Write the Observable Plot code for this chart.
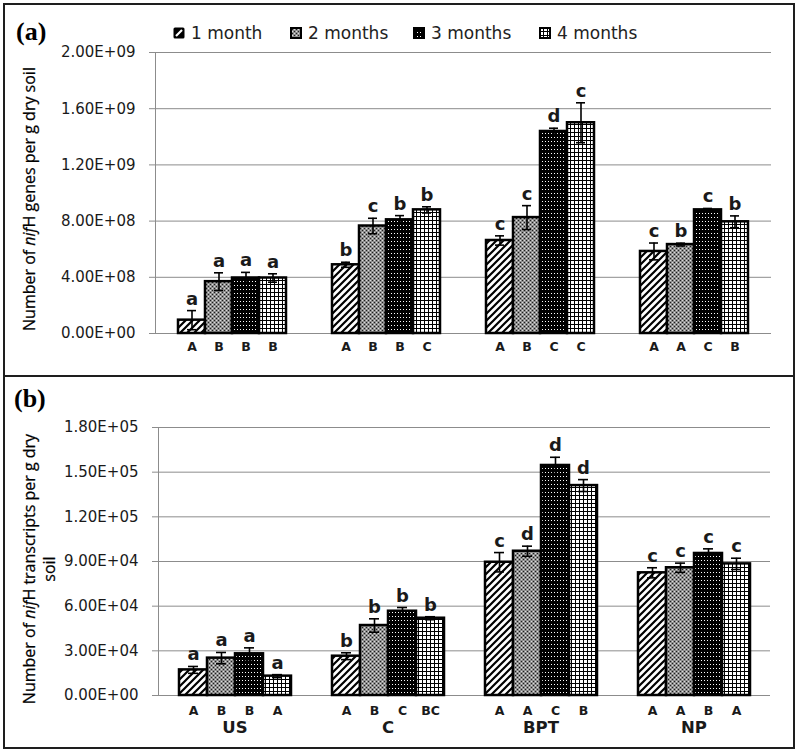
<!DOCTYPE html>
<html>
<head>
<meta charset="utf-8">
<script src="https://cdn.jsdelivr.net/npm/d3@7"></script>
<script src="https://cdn.jsdelivr.net/npm/@observablehq/plot@0.6"></script>
<style>
  html, body { margin: 0; padding: 0; background: #fff; }
  body { width: 799px; height: 752px; position: relative; overflow: hidden; }
  .abs { position: absolute; }
  .box { position: absolute; border: 2px solid #1e1e1e; box-sizing: border-box; pointer-events: none; }
  .chart svg text { fill: #1a1a1a; }
  .tag { font-family: "Liberation Serif", serif; font-weight: bold; font-size: 26px; color: #000; }
  .ytitle { font-family: "Open Sans", sans-serif; font-size: 16px; color: #000; text-align: center; white-space: nowrap;
            transform: translate(-50%, -50%) rotate(-90deg); line-height: 20px; -webkit-text-stroke: 0.25px #000; }
  .leg { font-family: "DejaVu Sans", sans-serif; font-size: 17px; color: #222; display: flex; align-items: center; }
  .leg svg { margin-right: 6px; }
</style>
</head>
<body>
<svg width="0" height="0" style="position:absolute">
  <defs>
    <pattern id="p1" patternUnits="userSpaceOnUse" width="7" height="7">
      <rect width="7" height="7" fill="#fff"/>
      <path d="M-1,1 l2,-2 M0,7 l7,-7 M6,8 l2,-2" stroke="#000" stroke-width="2.2"/>
    </pattern>
    <pattern id="p2" patternUnits="userSpaceOnUse" width="4" height="4">
      <rect width="4" height="4" fill="#8e8e8e"/>
      <rect x="0" y="0" width="1" height="1" fill="#1e1e1e"/>
      <rect x="2" y="2" width="1" height="1" fill="#1e1e1e"/>
      <rect x="2" y="0" width="1" height="1" fill="#dcdcdc"/>
      <rect x="0" y="2" width="1" height="1" fill="#dcdcdc"/>
    </pattern>
    <pattern id="p3" patternUnits="userSpaceOnUse" width="3" height="4">
      <rect width="3" height="4" fill="#000"/>
      <rect x="1" y="1" width="1" height="1" fill="#fff"/>
    </pattern>
    <pattern id="p4" patternUnits="userSpaceOnUse" width="4" height="4">
      <rect width="4" height="4" fill="#fff"/>
      <rect x="0" y="0" width="4" height="1" fill="#000"/>
      <rect x="0" y="0" width="1" height="4" fill="#000"/>
    </pattern>
  </defs>
</svg>

<div id="top" class="abs chart" style="left:0;top:0;"></div>
<div id="bot" class="abs chart" style="left:0;top:375px;"></div>

<div class="box" style="left:3px;top:3px;width:792px;height:374px;"></div>
<div class="box" style="left:3px;top:375px;width:792px;height:374px;"></div>

<div class="abs tag" style="left:16px;top:17px;">(a)</div>
<div class="abs tag" style="left:14px;top:384px;">(b)</div>

<div class="abs ytitle" style="left:29px;top:199px;">Number of <i>nif</i>H genes per g dry soil</div>
<div class="abs ytitle" style="left:39px;top:569px;">Number of <i>nif</i>H transcripts per g dry<br>soil</div>

<div id="legend"></div>

<script>
// ---- data ----
const groups = ["US", "C", "BPT", "NP"];
const months = ["1 month", "2 months", "3 months", "4 months"];

// (a) nifH genes per g dry soil (rows: groups, cols: months)
const genesMean = [
  [0.95e8, 3.69e8, 3.95e8, 3.95e8],
  [4.89e8, 7.65e8, 8.09e8, 8.80e8],
  [6.62e8, 8.25e8, 1.438e9, 1.50e9],
  [5.84e8, 6.33e8, 8.80e8, 7.95e8]
];
const genesErr = [
  [0.68e8, 0.63e8, 0.40e8, 0.30e8],
  [0.18e8, 0.55e8, 0.30e8, 0.22e8],
  [0.33e8, 0.85e8, 0.23e8, 1.42e8],
  [0.60e8, 0.10e8, 0.10e8, 0.42e8]
];
const genesSig = [
  ["a", "a", "a", "a"],
  ["b", "c", "b", "b"],
  ["c", "c", "d", "c"],
  ["c", "b", "c", "b"]
];
const genesLetters = [
  ["A", "B", "B", "B"],
  ["A", "B", "B", "C"],
  ["A", "B", "C", "C"],
  ["A", "A", "C", "B"]
];
const genesTicks = [0, 4e8, 8e8, 1.2e9, 1.6e9, 2e9];

// (b) nifH transcripts per g dry soil
const transMean = [
  [17.2e3, 25.1e3, 28.0e3, 13.0e3],
  [26.4e3, 47.0e3, 56.6e3, 51.9e3],
  [89.5e3, 96.9e3, 154.5e3, 141.0e3],
  [82.4e3, 85.8e3, 95.4e3, 88.4e3]
];
const transErr = [
  [2.3e3, 3.8e3, 4.0e3, 1.0e3],
  [2.3e3, 4.5e3, 2.5e3, 1.0e3],
  [6.5e3, 3.4e3, 5.5e3, 4.0e3],
  [3.4e3, 3.1e3, 3.1e3, 3.8e3]
];
const transSig = [
  ["a", "a", "a", "a"],
  ["b", "b", "b", "b"],
  ["c", "d", "d", "d"],
  ["c", "c", "c", "c"]
];
const transLetters = [
  ["A", "B", "B", "A"],
  ["A", "B", "C", "BC"],
  ["A", "A", "C", "B"],
  ["A", "A", "B", "A"]
];
const transTicks = [0, 3e4, 6e4, 9e4, 1.2e5, 1.5e5, 1.8e5];

const patterns = ["url(#p1)", "url(#p2)", "url(#p3)", "url(#p4)"];

function table(mean, err, sig, letters) {
  const rows = [];
  groups.forEach((g, gi) => months.forEach((m, mi) => rows.push({
    group: g, month: m, value: mean[gi][mi], err: err[gi][mi], sig: sig[gi][mi], letter: letters[gi][mi]
  })));
  return rows;
}

function sci(v) {
  if (v === 0) return "0.00E+00";
  const e = Math.floor(Math.log10(v) + 1e-9);
  const m = v / Math.pow(10, e);
  return m.toFixed(2) + "E+" + String(e).padStart(2, "0");
}

function panel(data, o) {
  return Plot.plot({
    width: 799,
    height: o.height,
    marginTop: o.mt, marginBottom: o.mb, marginLeft: o.ml, marginRight: o.mr,
    style: { background: "transparent", color: "#8c8c8c", fontFamily: "DejaVu Sans, sans-serif", fontSize: "15px" },
    fx: { domain: groups, padding: 0, axis: null, label: null },
    x: { domain: months, paddingInner: 0, paddingOuter: o.po, axis: null },
    y: { domain: o.domain, ticks: o.ticks, tickFormat: sci, tickSize: 6, tickPadding: 14, line: true, label: null },
    marks: [
      Plot.ruleY(o.ticks, { stroke: "#8c8c8c", strokeWidth: 1 }),
      ...months.map((m, i) => Plot.barY(data.filter(d => d.month === m), {
        fx: "group", x: "month", y: "value", fill: patterns[i], stroke: "#000", strokeWidth: 2.5
      })),
      Plot.ruleX(data, { fx: "group", x: "month", y1: d => d.value - d.err, y2: d => d.value + d.err, stroke: "#000", strokeWidth: 1.6 }),
      Plot.tickY(data, { fx: "group", x: "month", y: d => d.value + d.err, insetLeft: 9, insetRight: 9, stroke: "#000", strokeWidth: 1.6 }),
      Plot.tickY(data, { fx: "group", x: "month", y: d => d.value - d.err, insetLeft: 9, insetRight: 9, stroke: "#000", strokeWidth: 1.6 }),
      Plot.text(data, { fx: "group", x: "month", y: d => d.value + d.err, text: "sig", dy: -6, lineAnchor: "bottom",
        fontWeight: "bold", fontSize: 18, fill: "#111", fontFamily: "DejaVu Sans, sans-serif" }),
      Plot.text(data, { fx: "group", x: "month", y: 0, text: "letter", dy: o.letterDy,
        fontWeight: "bold", fontSize: 12.5, fill: "#222", fontFamily: "DejaVu Sans, sans-serif" }),
      ...(o.groupLabels ? [Plot.text(groups, { fx: d => d, text: d => d, frameAnchor: "bottom", dy: 37,
        fontWeight: "bold", fontSize: 16.5, fill: "#111", fontFamily: "DejaVu Sans, sans-serif" })] : [])
    ]
  });
}

document.getElementById("top").append(panel(table(genesMean, genesErr, genesSig, genesLetters), {
  height: 375, mt: 52, mb: 42, ml: 153, mr: 27, po: 0.76, domain: [0, 2e9], ticks: genesTicks, letterDy: 13, groupLabels: false
}));
document.getElementById("bot").append(panel(table(transMean, transErr, transSig, transLetters), {
  height: 377, mt: 52, mb: 57, ml: 157, mr: 28, po: 0.69, domain: [0, 1.8e5], ticks: transTicks, letterDy: 15, groupLabels: true
}));

// legend
const legX = [173, 290, 413, 539];
const leg = document.getElementById("legend");
months.forEach((m, i) => {
  const item = document.createElement("div");
  item.className = "abs leg";
  item.style.left = legX[i] + "px";
  item.style.top = "22px";
  item.style.height = "22px";
  let sw;
  if (i === 0) {
    sw = `<svg width="12" height="12"><rect x="0.5" y="0.5" width="11" height="11" rx="1.5" fill="#000"/><path d="M3,9 L9,3" stroke="#fff" stroke-width="2.2"/></svg>`;
  } else {
    sw = `<svg width="12" height="12"><rect x="1" y="1" width="10" height="10" fill="${patterns[i]}" stroke="#000" stroke-width="2"/></svg>`;
  }
  item.innerHTML = sw + `<span>${m}</span>`;
  leg.append(item);
});
</script>
</body>
</html>
